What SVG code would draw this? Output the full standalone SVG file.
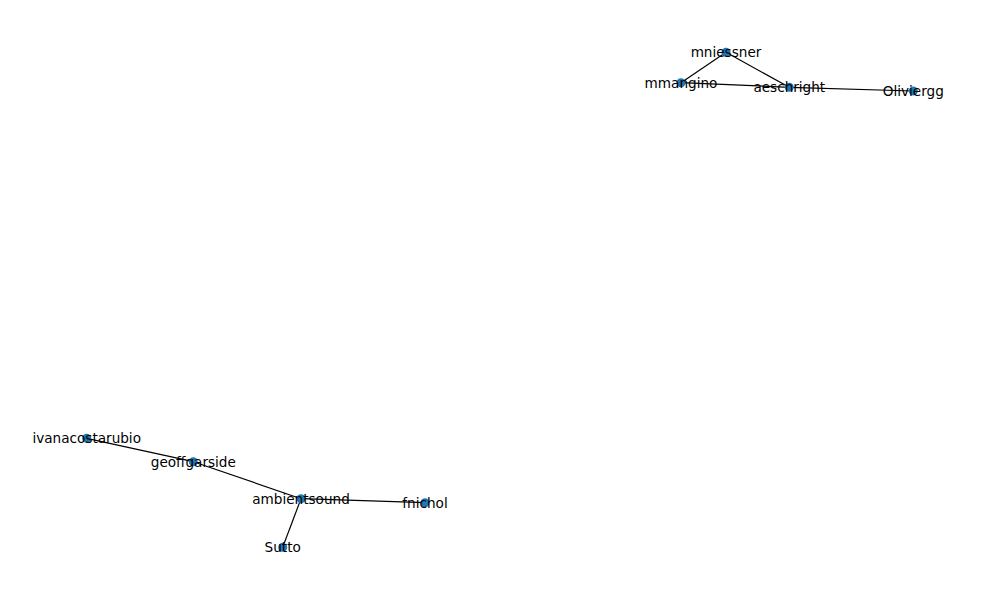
<svg xmlns="http://www.w3.org/2000/svg" width="1000" height="600" viewBox="0 0 1000 600">
<style>
.e{stroke:#000;stroke-width:1.2;fill:none}
.n circle{fill:#1f77b4}
.n text{font-family:"DejaVu Sans",sans-serif;font-size:13.6px;fill:#000;text-anchor:middle;dominant-baseline:central}
</style>
<rect width="1000" height="600" fill="#fff"/>
<g id="edges">
<line class="e" x1="726" y1="52.3" x2="681" y2="82.7"/>
<line class="e" x1="726" y1="52.3" x2="789.3" y2="87.3"/>
<line class="e" x1="681" y1="82.7" x2="789.3" y2="87.3"/>
<line class="e" x1="789.3" y1="87.3" x2="913.3" y2="91"/>
<line class="e" x1="86.7" y1="438.3" x2="193.3" y2="461.7"/>
<line class="e" x1="193.3" y1="461.7" x2="301" y2="498.7"/>
<line class="e" x1="301" y1="498.7" x2="425" y2="502.7"/>
<line class="e" x1="301" y1="498.7" x2="282.7" y2="547.3"/>
</g>
<g id="mniessner" class="n"><circle cx="726" cy="52.3" r="4.5"/><text x="726" y="52.3">mniessner</text></g>
<g id="mmangino" class="n"><circle cx="681" cy="82.7" r="4.5"/><text x="681" y="82.7">mmangino</text></g>
<g id="aeschright" class="n"><circle cx="789.3" cy="87.3" r="4.5"/><text x="789.3" y="87.3">aeschright</text></g>
<g id="Oliviergg" class="n"><circle cx="913.3" cy="91" r="4.5"/><text x="913.3" y="91">Oliviergg</text></g>
<g id="ivanacostarubio" class="n"><circle cx="86.7" cy="438.3" r="4.5"/><text x="86.7" y="438.3">ivanacostarubio</text></g>
<g id="geoffgarside" class="n"><circle cx="193.3" cy="461.7" r="4.5"/><text x="193.3" y="461.7">geoffgarside</text></g>
<g id="ambientsound" class="n"><circle cx="301" cy="498.7" r="4.5"/><text x="301" y="498.7">ambientsound</text></g>
<g id="fnichol" class="n"><circle cx="425" cy="502.7" r="4.5"/><text x="425" y="502.7">fnichol</text></g>
<g id="Sutto" class="n"><circle cx="282.7" cy="547.3" r="4.5"/><text x="282.7" y="547.3">Sutto</text></g>
</svg>
